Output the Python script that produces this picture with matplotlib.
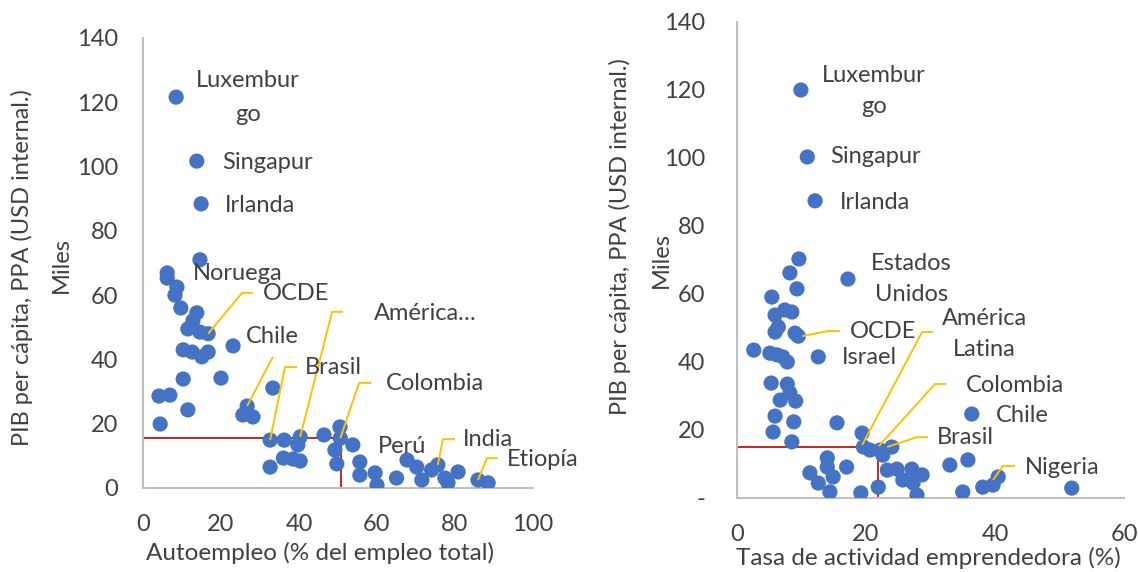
import matplotlib
matplotlib.use("Agg")
import matplotlib.pyplot as plt

plt.rcParams['font.family'] = ['Lato', 'DejaVu Sans']

TXT = '#404040'
DOT = '#4472C4'
LEAD = '#FFC000'
AXC = '#BFBFBF'

# ---- panel 1: autoempleo vs PIB per capita (miles)
auto_x = [8.5, 13.8, 14.9, 14.6, 6.2, 6.2, 8.7, 8.2, 9.7, 13.8, 12.8, 11.5, 14.6, 16.7,
          10.3, 12.6, 15.1, 16.7, 23.1, 10.3, 20.0, 4.1, 6.9, 11.5, 4.4, 33.3, 26.7, 25.6,
          28.2, 32.6, 36.2, 40.3, 39.7, 46.4, 50.5, 50.6, 53.8, 49.2, 32.6, 36.0, 38.5,
          40.3, 49.7, 55.6, 55.6, 59.5, 60.0, 65.0, 67.7, 70.2, 71.5, 74.0, 75.6, 77.4,
          78.2, 80.8, 85.9, 88.5]
auto_y = [121.6, 101.7, 88.4, 71.0, 66.9, 65.3, 62.5, 60.0, 56.0, 54.5, 52.0, 49.5, 48.5, 48.0,
          43.0, 42.3, 40.8, 42.3, 44.2, 33.9, 34.2, 28.6, 28.9, 24.3, 19.9, 31.1, 25.5, 22.7,
          22.1, 14.9, 14.9, 15.9, 13.4, 16.5, 19.0, 15.5, 13.4, 11.8, 6.5, 9.3, 9.0,
          8.4, 7.5, 8.1, 4.0, 4.7, 0.9, 3.1, 8.7, 6.5, 2.5, 5.6, 7.2, 3.1,
          1.6, 5.0, 2.5, 1.6]
auto_ref = (50.8, 15.6)   # promedio America Latina

# label text, text position, alignment, leader points (None = no leader)
auto_labels = [
    ("Luxembur\ngo", (26.9, 121.5), 'center', None),
    ("Singapur", (20.3, 101.4), 'left', None),
    ("Irlanda", (21.0, 88.0), 'left', None),
    ("Noruega", (12.8, 66.6), 'left', None),
    ("OCDE", (30.8, 60.4), 'left', [(16.7, 48.0), (25.4, 60.7), (28.2, 60.7)]),
    ("Chile", (26.4, 47.0), 'left', [(26.7, 25.5), (33.3, 40.8)]),
    ("Brasil", (41.5, 37.6), 'left', [(32.6, 14.9), (36.4, 37.6), (39.5, 37.6)]),
    ("América…", (59.2, 54.4), 'left', [(40.3, 15.9), (48.5, 54.8), (51.3, 54.8)]),
    ("Colombia", (62.3, 32.4), 'left', [(50.6, 15.5), (55.4, 32.7), (58.5, 32.7)]),
    ("Perú", (60.3, 12.8), 'left', None),
    ("India", (82.0, 15.0), 'left', [(75.6, 7.2), (76.9, 15.2), (80.0, 15.2)]),
    ("Etiopía", (93.3, 9.0), 'left', [(85.9, 2.5), (88.2, 9.3), (91.0, 9.3)]),
]

# ---- panel 2: tasa de actividad emprendedora vs PIB per capita (miles)
tea_x = [9.9, 10.9, 12.1, 9.6, 8.2, 17.2, 9.3, 5.4, 7.4, 8.5, 5.9, 6.4, 5.9, 9.5, 9.0,
         2.6, 5.1, 6.2, 7.1, 7.8, 12.6, 5.3, 7.8, 8.2, 6.7, 9.1, 5.9, 8.8, 15.5, 5.6,
         8.5, 19.4, 19.6, 20.6, 22.2, 24.0, 22.6, 14.0, 11.3, 14.0, 14.9, 12.6, 17.0,
         14.4, 19.2, 21.9, 23.3, 24.8, 25.7, 27.1, 28.7, 27.3, 27.9, 36.4, 35.8, 33.0,
         35.0, 38.1, 39.7, 40.5, 51.9]
tea_y = [120.0, 100.3, 87.4, 70.3, 66.2, 64.4, 61.5, 59.1, 55.3, 54.7, 53.8, 50.3, 48.8, 47.6, 48.5,
         43.5, 42.6, 42.1, 41.5, 40.0, 41.5, 33.8, 33.5, 30.9, 28.8, 28.5, 24.1, 22.4, 22.1, 19.4,
         16.5, 19.1, 15.0, 14.1, 14.1, 15.0, 12.6, 11.8, 7.4, 9.1, 6.2, 4.4, 9.1,
         1.8, 1.5, 3.2, 8.2, 8.5, 5.3, 8.5, 6.8, 4.4, 0.9, 24.7, 11.2, 9.7,
         1.8, 3.2, 3.8, 6.2, 2.9]
tea_ref = (21.9, 15.0)

tea_labels = [
    ("Luxembur\ngo", (21.2, 119.7), 'center', None),
    ("Singapur", (14.4, 100.3), 'left', None),
    ("Irlanda", (16.0, 87.0), 'left', None),
    ("Estados\nUnidos", (27.0, 64.4), 'center', None),
    ("OCDE", (17.5, 49.1), 'left', [(10.1, 47.6), (14.1, 49.1), (16.0, 49.1)]),
    ("Israel", (16.3, 41.2), 'left', None),
    ("América\nLatina", (38.4, 48.2), 'center', [(19.4, 15.6), (28.7, 48.8), (30.4, 48.8)]),
    ("Colombia", (35.5, 33.2), 'left', [(22.0, 15.3), (30.7, 33.5), (32.4, 33.5)]),
    ("Chile", (40.2, 24.4), 'left', None),
    ("Brasil", (31.0, 17.9), 'left', [(23.3, 15.0), (27.9, 17.9), (29.6, 17.9)]),
    ("Nigeria", (44.7, 9.1), 'left', [(39.7, 5.3), (41.2, 9.4), (43.1, 9.4)]),
]

W, H = 1138, 572
fig = plt.figure(figsize=(W / 100, H / 100), dpi=100)

def px_box(x0, y0, x1, y1):
    return [x0 / W, 1 - y1 / H, (x1 - x0) / W, (y1 - y0) / H]

ax1 = fig.add_axes(px_box(143, 38, 533, 488))
ax2 = fig.add_axes(px_box(737, 22, 1124, 498))


def draw_panel(ax, xs, ys, ref, labels, xmax, xticks, ypad, zero_lbl, lsp):
    ax.scatter(xs, ys, s=120, color=DOT, edgecolors='none', zorder=3)
    ax.plot([0, ref[0]], [ref[1], ref[1]], color='#C00000', lw=1.2, zorder=2)
    ax.plot([ref[0], ref[0]], [0, ref[1]], color='#C00000', lw=1.2, zorder=2)
    for txt, pos, ha, lead in labels:
        ax.text(pos[0], pos[1], txt, ha=ha, va='center', fontsize=17,
                color=TXT, linespacing=lsp, zorder=5)
        if lead:
            ax.plot([p[0] for p in lead], [p[1] for p in lead], color=LEAD,
                    lw=1.4, zorder=4, solid_capstyle='butt')
    ax.set_xlim(0, xmax)
    ax.set_ylim(0, 140)
    ax.set_xticks(xticks)
    ax.set_yticks(range(0, 141, 20))
    ylbls = [str(v) for v in range(0, 141, 20)]
    ylbls[0] = zero_lbl
    ax.set_yticklabels(ylbls)
    for s in ['top', 'right']:
        ax.spines[s].set_visible(False)
    for s in ['left', 'bottom']:
        ax.spines[s].set_color(AXC)
        ax.spines[s].set_linewidth(1.5)
    ax.tick_params(axis='both', length=0, labelsize=17, labelcolor=TXT)
    ax.tick_params(axis='y', pad=ypad)
    ax.tick_params(axis='x', pad=19)
    ax.set_facecolor('none')


draw_panel(ax1, auto_x, auto_y, auto_ref, auto_labels, 100, range(0, 101, 20), 18, '0', 1.75)
draw_panel(ax2, tea_x, tea_y, tea_ref, tea_labels, 60, range(0, 61, 20), 23, '-', 1.6)

ax1.set_xlabel("Autoempleo (% del empleo total)", fontsize=17.5, color=TXT)
ax2.set_xlabel("Tasa de actividad emprendedora (%)", fontsize=17.5, color=TXT)
ax1.xaxis.set_label_coords((320 - 143) / 390, -(553 - 488) / 450)
ax2.xaxis.set_label_coords((928 - 737) / 387, -(558 - 498) / 476)
ax1.xaxis.label.set_va('center')
ax2.xaxis.label.set_va('center')

ylab = "PIB per cápita, PPA (USD internal.)"
fig.text(22 / W, 1 - 268 / H, ylab, rotation=90, ha='center', va='center', fontsize=17, color=TXT)
fig.text(61 / W, 1 - 265 / H, "Miles", rotation=90, ha='center', va='center', fontsize=17, color=TXT)
fig.text(620 / W, 1 - 237 / H, ylab, rotation=90, ha='center', va='center', fontsize=17, color=TXT)
fig.text(661 / W, 1 - 260 / H, "Miles", rotation=90, ha='center', va='center', fontsize=17, color=TXT)

fig.savefig("out.png", dpi=100)
